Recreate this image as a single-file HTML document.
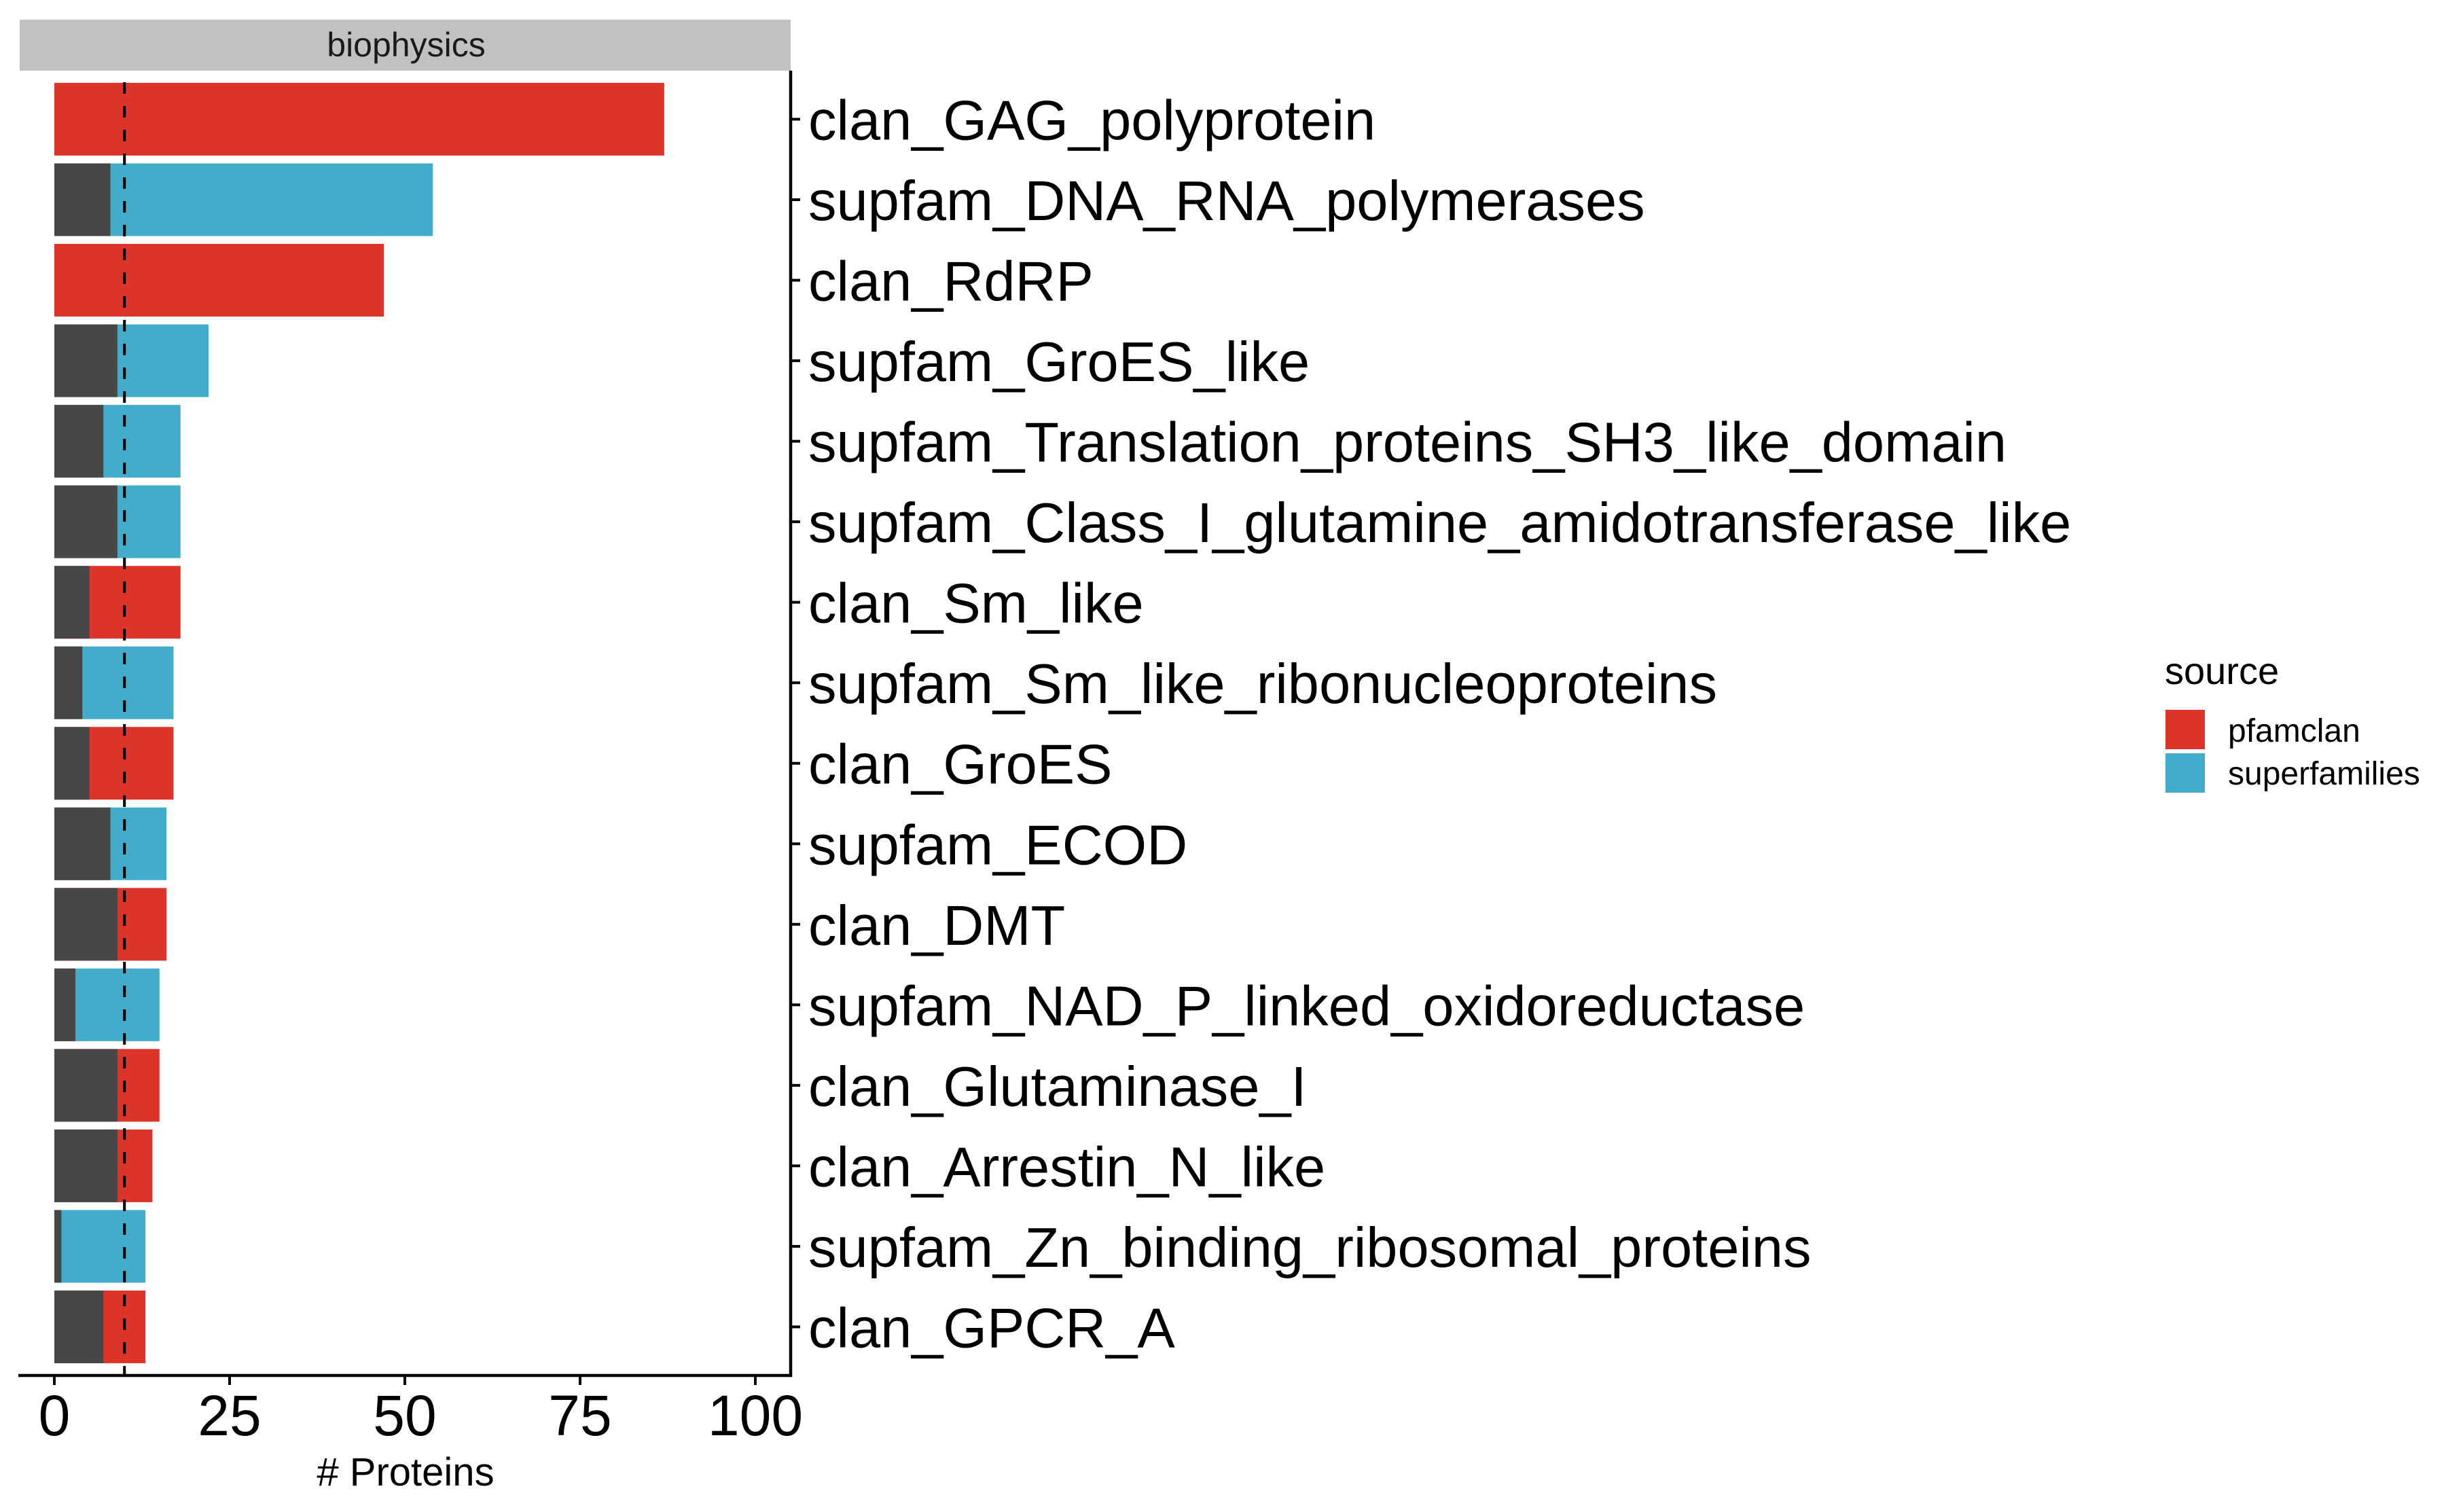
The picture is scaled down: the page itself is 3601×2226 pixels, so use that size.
<!DOCTYPE html>
<html><head><meta charset="utf-8"><style>
html,body{margin:0;padding:0;background:#fff;}
svg{display:block;font-family:"Liberation Sans",Arial,sans-serif;}
</style></head><body>
<svg id="chart" width="3601" height="2226" viewBox="0 0 3601 2226" xmlns="http://www.w3.org/2000/svg">
<rect x="0" y="0" width="3601" height="2226" fill="#fff"/>
<g>
<rect x="29" y="29" width="1135" height="75" fill="#c1c1c1"/>
<text x="598" y="83" font-size="50" text-anchor="middle" fill="#1a1a1a">biophysics</text>
</g>
<g id="bars"></g>
<g id="axes"></g>
<g>
<text x="3187" y="1007" font-size="56" fill="#000">source</text>
<g>
<rect x="3188" y="1045" width="58" height="58" fill="#dd3429"/>
<text x="3280" y="1092" font-size="48" fill="#000">pfamclan</text>
</g>
<g>
<rect x="3188" y="1109" width="58" height="58" fill="#42adcb"/>
<text x="3280" y="1155" font-size="48" fill="#000">superfamilies</text>
</g>
</g>
</svg>
<script>
const categories = ["clan_GAG_polyprotein","supfam_DNA_RNA_polymerases","clan_RdRP","supfam_GroES_like","supfam_Translation_proteins_SH3_like_domain","supfam_Class_I_glutamine_amidotransferase_like","clan_Sm_like","supfam_Sm_like_ribonucleoproteins","clan_GroES","supfam_ECOD","clan_DMT","supfam_NAD_P_linked_oxidoreductase","clan_Glutaminase_I","clan_Arrestin_N_like","supfam_Zn_binding_ribosomal_proteins","clan_GPCR_A"];
const totals = [87,54,47,22,18,18,18,17,17,16,16,15,15,14,13,13];
const darkPart = [0,8,0,9,7,9,5,4,5,8,9,3,9,9,1,7];
const sources = ["pfamclan","superfamilies","pfamclan","superfamilies","superfamilies","superfamilies","pfamclan","superfamilies","pfamclan","superfamilies","pfamclan","superfamilies","pfamclan","pfamclan","superfamilies","pfamclan"];
const xTicks = [0,25,50,75,100];
const threshold = [10];

const NS = "http://www.w3.org/2000/svg";
const colors = {pfamclan:"#dd3429", superfamilies:"#42adcb"};
const x0 = 80, pxPerUnit = 10.32;
function xs(v){ return x0 + v*pxPerUnit; }
const firstCenter = 175.5, pitch = 118.53, barH = 107;
function yc(i){ return firstCenter + i*pitch; }
function mk(tag, attrs, parent){ const e=document.createElementNS(NS,tag); for(const k in attrs) e.setAttribute(k,attrs[k]); parent.appendChild(e); return e; }

const bars = document.getElementById('bars');
const axes = document.getElementById('axes');
categories.forEach((c,i)=>{
  const y = yc(i) - barH/2;
  const r = mk('rect',{x:xs(0),y:y,width:xs(totals[i])-xs(0),height:barH,fill:colors[sources[i]]},bars);
  
  
  if (darkPart[i] > 0) {
    const d = mk('rect',{x:xs(0),y:y,width:xs(darkPart[i])-xs(0),height:barH,fill:"#474747"},bars);
    
    
  }
});
threshold.forEach(t=>{
  const l = mk('line',{x1:xs(t),x2:xs(t),y1:121,y2:2025,stroke:"#000","stroke-width":4,"stroke-dasharray":"17 18"},bars);
  
  
});
const xa = mk('line',{x1:27,x2:1166,y1:2025,y2:2025,stroke:"#000","stroke-width":4.5},axes);


const ya = mk('line',{x1:1164,x2:1164,y1:104,y2:2027,stroke:"#000","stroke-width":4.5},axes);


xTicks.forEach(t=>{
  const tk = mk('line',{x1:xs(t),x2:xs(t),y1:2025,y2:2039,stroke:"#000","stroke-width":4},axes);
  
  
  const tx = mk('text',{x:xs(t),y:2113,"font-size":84,"text-anchor":"middle",fill:"#000"},axes);
  tx.textContent = t;
  
  
});
categories.forEach((c,i)=>{
  const tk = mk('line',{x1:1164,x2:1178,y1:yc(i),y2:yc(i),stroke:"#000","stroke-width":4},axes);
  
  
  const tx = mk('text',{x:1190,y:yc(i)+30,"font-size":83,fill:"#000"},axes);
  tx.textContent = c;
  
  
});
const title = mk('text',{x:597,y:2187,"font-size":58,"text-anchor":"middle",fill:"#000"},axes);
title.textContent = "# Proteins";


</script>
</body></html>
